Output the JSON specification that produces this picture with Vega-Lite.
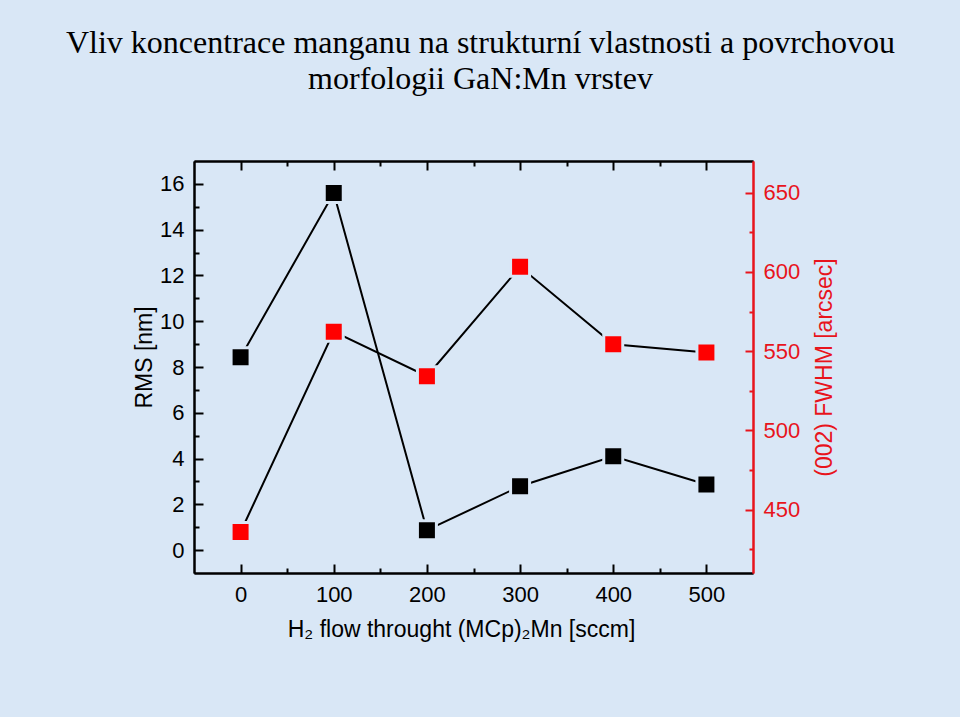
{
  "$schema": "https://vega.github.io/schema/vega-lite/v6.json",
  "width": 559,
  "height": 412,
  "autosize": {"type": "none"},
  "padding": {"left": 194, "top": 161, "right": 207, "bottom": 144},
  "background": "#d9e7f6",
  "title": {
    "text": ["Vliv koncentrace manganu na strukturní vlastnosti a povrchovou", "morfologii GaN:Mn vrstev"],
    "font": "Liberation Serif",
    "fontSize": 32,
    "fontWeight": "normal",
    "color": "#000000",
    "anchor": "middle",
    "lineHeight": 36,
    "offset": 64,
    "dx": 7
  },
  "config": {
    "view": {"stroke": null},
    "axis": {
      "labelFont": "Liberation Sans",
      "titleFont": "Liberation Sans",
      "labelFontSize": 22,
      "titleFontSize": 23,
      "titleFontWeight": "normal",
      "labelColor": "#000000",
      "titleColor": "#000000",
      "domainColor": "#000000",
      "tickColor": "#000000",
      "domainWidth": 2,
      "tickWidth": 2,
      "grid": false
    }
  },
  "data": {
    "values": [
      {"flow": 0, "rms": 8.43, "fwhm": 435.9},
      {"flow": 100, "rms": 15.6, "fwhm": 562.3},
      {"flow": 200, "rms": 0.87, "fwhm": 534.2},
      {"flow": 300, "rms": 2.79, "fwhm": 603.2},
      {"flow": 400, "rms": 4.1, "fwhm": 554.4},
      {"flow": 500, "rms": 2.87, "fwhm": 549.1}
    ]
  },
  "layer": [
    {
      "mark": {"type": "line", "color": "#000000", "strokeWidth": 2},
      "encoding": {
        "x": {
          "field": "flow", "type": "quantitative",
          "scale": {"domain": [-50, 550], "nice": false, "zero": false},
          "axis": {"orient": "bottom", "title": null, "labels": false, "values": [50, 150, 250, 350, 450], "tickSize": -5}
        },
        "y": {
          "field": "rms", "type": "quantitative",
          "scale": {"domain": [-1, 17], "nice": false, "zero": false},
          "axis": {"orient": "left", "title": null, "labels": false, "values": [1, 3, 5, 7, 9, 11, 13, 15], "tickSize": -5}
        }
      }
    },
    {
      "mark": {"type": "line", "color": "#000000", "strokeWidth": 2},
      "encoding": {
        "x": {
          "field": "flow", "type": "quantitative",
          "scale": {"domain": [-50, 550], "nice": false, "zero": false},
          "axis": {"orient": "top", "title": null, "labels": false, "values": [50, 150, 250, 350, 450], "tickSize": -5}
        },
        "y": {
          "field": "fwhm", "type": "quantitative",
          "scale": {"domain": [410, 670], "nice": false, "zero": false},
          "axis": {"orient": "right", "title": null, "labels": false, "values": [425, 475, 525, 575, 625], "tickSize": -4, "domainColor": "#e8141c", "tickColor": "#e8141c"}
        }
      }
    },
    {
      "mark": {"type": "point", "shape": "square", "filled": true, "size": 361, "color": "#000000", "stroke": "#d9e7f6", "strokeWidth": 3, "opacity": 1, "strokeOpacity": 1},
      "encoding": {
        "x": {
          "field": "flow", "type": "quantitative",
          "scale": {"domain": [-50, 550], "nice": false, "zero": false},
          "axis": {
            "orient": "bottom",
            "title": "H₂ flow throught (MCp)₂Mn [sccm]",
            "values": [0, 100, 200, 300, 400, 500],
            "tickSize": -9,
            "labelPadding": 20,
            "titleX": 267,
            "titleY": 56,
            "titleAlign": "center",
            "titleBaseline": "middle"
          }
        },
        "y": {
          "field": "rms", "type": "quantitative",
          "scale": {"domain": [-1, 17], "nice": false, "zero": false},
          "axis": {
            "orient": "left",
            "title": "RMS [nm]",
            "values": [0, 2, 4, 6, 8, 10, 12, 14, 16],
            "tickSize": -9,
            "labelPadding": 19,
            "titleX": -50,
            "titleY": 196,
            "titleAngle": 270,
            "titleAlign": "center",
            "titleBaseline": "middle"
          }
        }
      }
    },
    {
      "mark": {"type": "point", "shape": "square", "filled": true, "size": 361, "color": "#ff0000", "stroke": "#d9e7f6", "strokeWidth": 3, "opacity": 1, "strokeOpacity": 1},
      "encoding": {
        "x": {
          "field": "flow", "type": "quantitative",
          "scale": {"domain": [-50, 550], "nice": false, "zero": false},
          "axis": {"orient": "top", "title": null, "labels": false, "values": [0, 100, 200, 300, 400, 500], "tickSize": -9}
        },
        "y": {
          "field": "fwhm", "type": "quantitative",
          "scale": {"domain": [410, 670], "nice": false, "zero": false},
          "axis": {
            "orient": "right",
            "title": "(002) FWHM  [arcsec]",
            "values": [450, 500, 550, 600, 650],
            "tickSize": -8,
            "labelPadding": 18,
            "domainColor": "#e8141c",
            "tickColor": "#e8141c",
            "labelColor": "#e8141c",
            "titleColor": "#e8141c",
            "titleX": 71,
            "titleY": 206,
            "titleAngle": 270,
            "titleAlign": "center",
            "titleBaseline": "middle"
          }
        }
      }
    }
  ],
  "resolve": {"scale": {"y": "independent"}, "axis": {"x": "independent", "y": "independent"}}
}
